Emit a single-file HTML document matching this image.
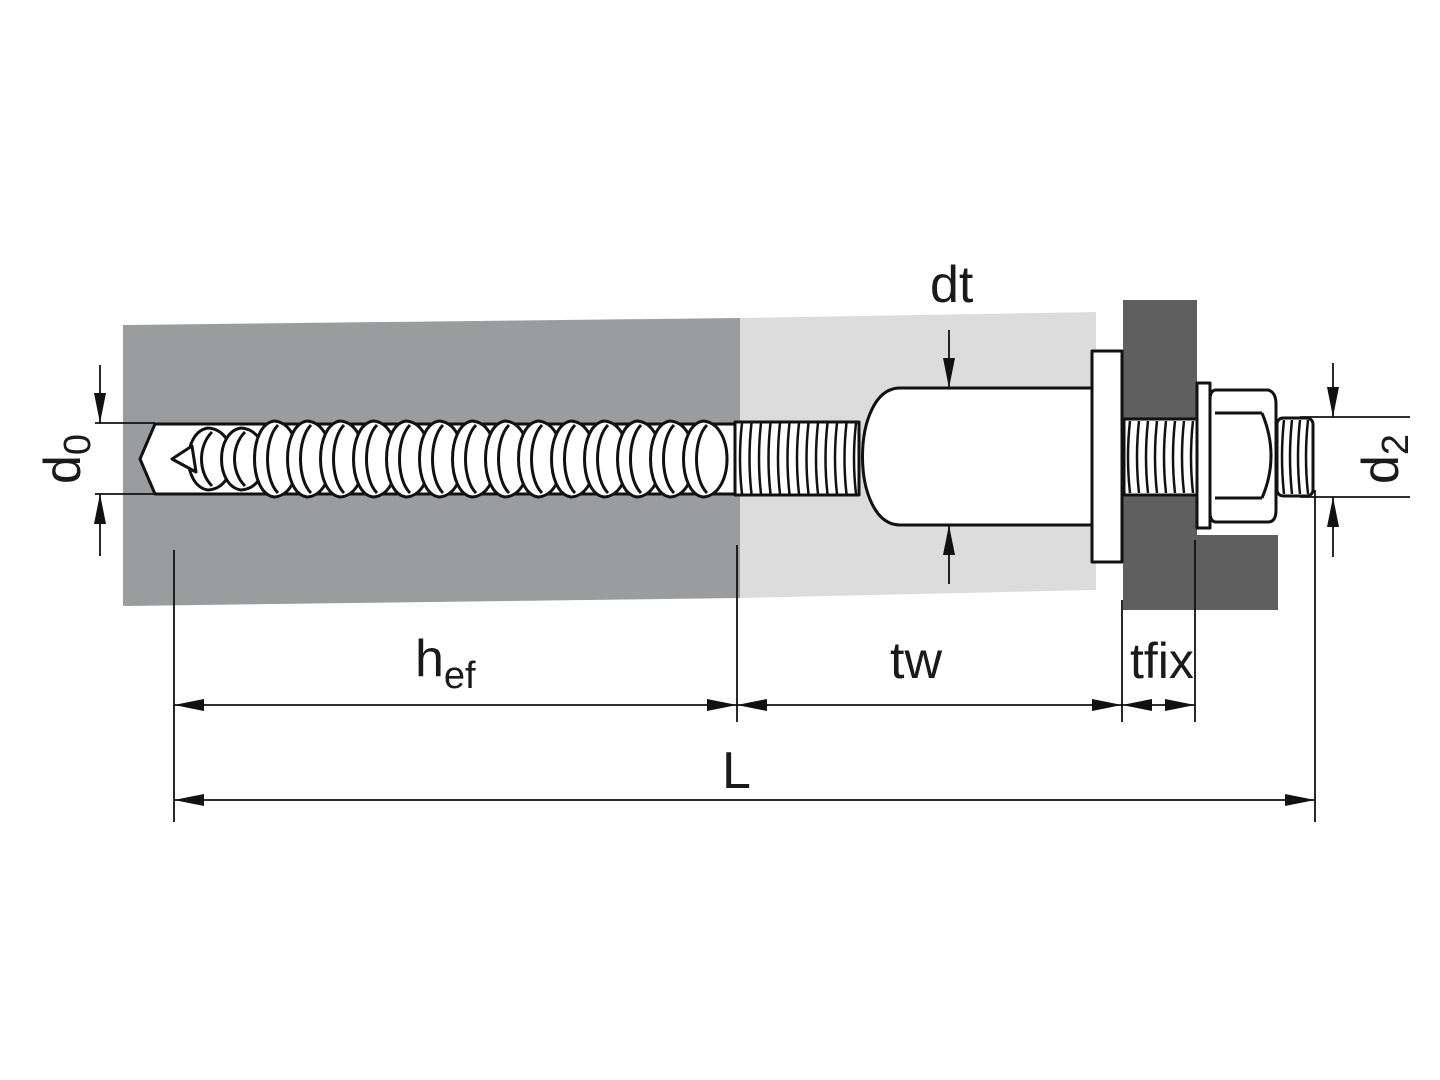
<!DOCTYPE html>
<html><head><meta charset="utf-8"><style>
html,body{margin:0;padding:0;background:#fff;width:1440px;height:1080px;overflow:hidden}
text{font-family:"Liberation Sans",sans-serif;fill:#1a1a1a}
</style></head><body>
<svg id="s" width="1440" height="1080" viewBox="0 0 1440 1080" xmlns="http://www.w3.org/2000/svg">
<defs>
<marker id="a" viewBox="0 0 30 12" refX="30" refY="6" markerWidth="30" markerHeight="12" markerUnits="userSpaceOnUse" orient="auto-start-reverse"><path d="M0,0 L30,6 L0,12 Z" fill="#111"/></marker>
</defs>
<polygon points="123,325 740,318 740,598 123,606" fill="#9b9c9e"/>
<polygon points="740,318 1096,312 1096,590 740,598" fill="#dcdcdc"/>
<polygon points="1123,300 1197,300 1197,535 1278,535 1278,610 1123,610" fill="#5f5f5f"/>
<g id="screw" stroke="#111" stroke-width="3" fill="#fff" stroke-linejoin="round">
<path d="M155,424 L735,424 L735,494 L155,494 L140,459 Z"/>
<g id="coarse"></g>
<path d="M172,459 L192,446 L196,472 Z"/>
<rect x="735" y="422" width="124" height="73" />
<g id="fine"></g>
<path d="M900,388 L1092,388 L1092,525 L900,525 C850,525 850,388 900,388 Z"/>
<rect x="1092" y="351" width="30" height="211"/>
<rect x="1124" y="419" width="74" height="76"/>
<g id="fine2"></g>
<rect x="1197" y="383" width="13" height="145"/>
<path d="M1216,390 L1268,390 Q1276,392 1276,404 L1276,510 Q1276,522 1268,522 L1216,522 Q1210,522 1210,512 L1210,400 Q1210,390 1216,390 Z"/>
<path d="M1215,413 L1262,413 M1215,498 L1262,498 M1262,413 Q1280,456 1262,498" fill="none"/>
<rect x="1277" y="418" width="36" height="78" rx="6"/>
<g id="fine3"></g>
</g>
<g stroke="#111" stroke-width="1.8" fill="none">
<line x1="95" y1="423" x2="155" y2="423"/><line x1="95" y1="494" x2="155" y2="494"/>
<line x1="100" y1="365" x2="100" y2="423" marker-end="url(#a)"/>
<line x1="100" y1="556" x2="100" y2="494" marker-end="url(#a)"/>
<line x1="1300" y1="417" x2="1410" y2="417"/><line x1="1300" y1="497" x2="1410" y2="497"/>
<line x1="1333" y1="363" x2="1333" y2="417" marker-end="url(#a)"/>
<line x1="1333" y1="557" x2="1333" y2="497" marker-end="url(#a)"/>
<line x1="949" y1="330" x2="949" y2="388" marker-end="url(#a)"/>
<line x1="949" y1="584" x2="949" y2="525" marker-end="url(#a)"/>
<line x1="174" y1="550" x2="174" y2="822"/>
<line x1="737" y1="545" x2="737" y2="722"/>
<line x1="1122" y1="600" x2="1122" y2="722"/>
<line x1="1195" y1="540" x2="1195" y2="722"/>
<line x1="1315" y1="490" x2="1315" y2="822"/>
<line x1="174" y1="705" x2="737" y2="705" marker-start="url(#a)" marker-end="url(#a)"/>
<line x1="737" y1="705" x2="1122" y2="705" marker-start="url(#a)" marker-end="url(#a)"/>
<line x1="1122" y1="705" x2="1195" y2="705" marker-start="url(#a)" marker-end="url(#a)"/>
<line x1="174" y1="800" x2="1315" y2="800" marker-start="url(#a)" marker-end="url(#a)"/>
</g>
<text x="415" y="676" font-size="52">h<tspan font-size="38" dy="12">ef</tspan></text>
<text x="890" y="678" font-size="52">tw</text>
<text x="1130" y="678" font-size="50">tfix</text>
<text x="722" y="788" font-size="52">L</text>
<text x="930" y="302" font-size="52">dt</text>
<text transform="translate(80,484) rotate(-90)" font-size="52">d<tspan font-size="38" dy="10">0</tspan></text>
<text transform="translate(1398,484) rotate(-90)" font-size="52">d<tspan font-size="38" dy="10">2</tspan></text>
</svg>
<script>
var NS="http://www.w3.org/2000/svg";
function el(p,t,a){var e=document.createElementNS(NS,t);for(var k in a)e.setAttribute(k,a[k]);p.appendChild(e);return e;}
var c=document.getElementById("coarse");
for(var i=0;i<16;i++){var x=200+i*33;var h=i<2?31:38;
el(c,"path",{d:"M"+(x+8)+","+(459-h)+" C"+(x-18)+","+(459-h+4)+" "+(x-18)+","+(459+h-4)+" "+(x+8)+","+(459+h)+" C"+(x+40)+","+(459+h-2)+" "+(x+40)+","+(459-h+2)+" "+(x+8)+","+(459-h)+" Z"});
el(c,"path",{d:"M"+(x+12)+","+(459-h+4)+" C"+(x-2)+","+(459-h+18)+" "+(x-2)+","+(459+h-18)+" "+(x+12)+","+(459+h-4),fill:"none"});}
function fine(id,x0,x1,y0,y1,p){var g=document.getElementById(id);for(var x=x0;x<x1;x+=p){el(g,"path",{d:"M"+x+","+y0+" Q"+(x-4)+","+((y0+y1)/2)+" "+x+","+y1,fill:"none","stroke-width":"2.5"});}}
fine("fine",742,858,423,494,9.5);
fine("fine2",1130,1198,421,493,9);
fine("fine3",1284,1312,420,494,8);
</script>
</body></html>
